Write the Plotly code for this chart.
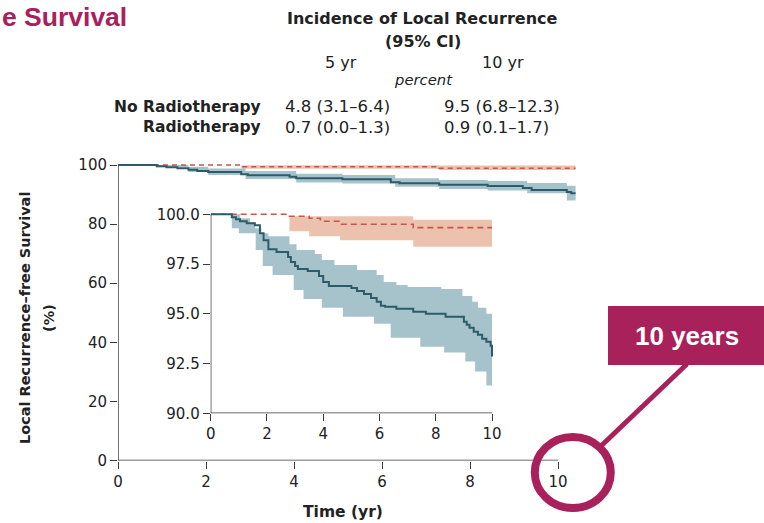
import plotly.graph_objects as go

W, H = 764, 523


def px(x):
    return x / W


def py(y):
    return 1 - y / H


# ---------------- data ----------------
# Main panel, No Radiotherapy (Kaplan-Meier step curve, %)
main_t_norad = [0, 0.88, 1.1, 1.35, 1.6, 1.8, 2.05, 2.8, 2.95, 3.9, 4.05, 5.1, 6.2, 6.4, 7.3, 8.4, 9.2, 9.4, 10.2, 10.3, 10.4]
main_v_norad = [100, 99.6, 99.2, 98.9, 98.4, 98.0, 97.6, 96.9, 96.5, 96.0, 95.5, 95.2, 94.2, 93.8, 93.3, 92.9, 92.2, 91.5, 90.9, 90.4, 90.4]
main_t_norad_up = [0.88, 1.6, 2.05, 2.9, 4.05, 5.1, 6.3, 7.3, 8.4, 9.3, 10.2, 10.4]
main_v_norad_up = [100, 99.4, 98.8, 98.0, 97.0, 96.6, 95.5, 94.9, 94.6, 93.9, 93.0, 93.0]
main_t_norad_lo = [0.88, 1.6, 2.05, 2.9, 4.05, 5.1, 6.3, 7.3, 8.4, 9.3, 10.2, 10.4]
main_v_norad_lo = [99.2, 97.6, 96.6, 95.3, 94.1, 93.7, 92.6, 91.9, 91.4, 90.4, 88.0, 87.4]

# Main panel, Radiotherapy
main_t_rad = [0, 2.8, 7.3, 10.4]
main_v_rad = [100, 99.4, 98.9, 98.9]
main_t_rad_band = [2.8, 7.3, 10.4]
main_v_rad_up = [99.9, 99.8, 99.8]
main_v_rad_lo = [98.7, 98.3, 98.3]

# Inset, No Radiotherapy
ins_t_norad = [0, 0.75, 0.9, 1.04, 1.28, 1.57, 1.75, 1.88, 2.05, 2.34, 2.75, 2.85, 3.0, 3.1, 3.45, 3.85, 4.0,
               4.2, 5.0, 5.2, 5.45, 5.7, 5.9, 6.05, 6.2, 6.6, 7.2, 7.65, 8.35, 9.0, 9.1, 9.2, 9.35, 9.5, 9.65,
               9.8, 9.95, 10.0]
ins_v_norad = [100, 99.85, 99.75, 99.65, 99.55, 99.45, 99.05, 98.7, 98.25, 98.1, 97.85, 97.6, 97.4, 97.25,
               97.15, 96.9, 96.6, 96.4, 96.3, 96.15, 96.0, 95.8, 95.6, 95.4, 95.35, 95.25, 95.1, 95.0, 94.85,
               94.6, 94.45, 94.3, 94.1, 93.95, 93.75, 93.6, 93.4, 92.85]
ins_t_norad_up = [0.75, 1.05, 1.4, 1.57, 1.8, 2.05, 2.8, 3.05, 3.7, 3.95, 4.4, 5.2, 5.9, 6.15, 6.6, 7.0, 8.2,
                  8.95, 9.3, 9.5, 9.8, 10.0]
ins_v_norad_up = [100, 99.8, 99.6, 99.3, 99.05, 98.9, 98.5, 98.2, 98.0, 97.7, 97.45, 97.2, 96.95, 96.6,
                  96.45, 96.35, 96.25, 95.9, 95.6, 95.3, 95.0, 95.0]
ins_t_norad_lo = [0.75, 1.0, 1.6, 1.85, 2.2, 2.95, 3.3, 3.95, 4.7, 5.8, 6.4, 7.45, 8.3, 9.05, 9.4, 9.8, 10.0]
ins_v_norad_lo = [99.3, 99.05, 98.2, 97.4, 96.95, 96.2, 95.75, 95.3, 94.85, 94.5, 93.8, 93.35, 93.05, 92.6,
                  92.1, 91.4, 91.2]

# Inset, Radiotherapy
ins_t_rad = [0, 2.8, 3.5, 3.9, 4.6, 7.2, 10.0]
ins_v_rad = [100, 99.9, 99.8, 99.65, 99.5, 99.33, 99.33]
ins_t_rad_up = [2.8, 7.2, 10.0]
ins_v_rad_up = [99.9, 99.72, 99.72]
ins_t_rad_lo = [2.8, 3.5, 4.6, 7.2, 10.0]
ins_v_rad_lo = [99.15, 98.9, 98.7, 98.37, 98.37]

# Axis ticks
main_xticks = [0, 2, 4, 6, 8, 10]
main_yticks = [0, 20, 40, 60, 80, 100]
ins_xticks = [0, 2, 4, 6, 8, 10]
ins_yticks = [90.0, 92.5, 95.0, 97.5, 100.0]

# Header table
table_groups = ["No Radiotherapy", "Radiotherapy"]
table_5yr = ["4.8 (3.1–6.4)", "0.7 (0.0–1.3)"]
table_10yr = ["9.5 (6.8–12.3)", "0.9 (0.1–1.7)"]

# ---------------- styles ----------------
BLUE = "#2E5B69"
BLUE_BAND = "#A6C3CC"
RED = "#C4564B"
RED_BAND = "#ECC2AE"
AXIS = "#3a3a3a"
TXT = "#222"
CRIMSON = "#A8215B"
FONT = "DejaVu Sans"
SLIDE_FONT = "Liberation Sans, Arial"

fig = go.Figure()


def add_band(t_up, v_up, t_lo, v_lo, color, xa, ya):
    fig.add_trace(go.Scatter(x=t_up, y=v_up, mode="lines", line=dict(width=0, shape="hv"),
                             hoverinfo="skip", xaxis=xa, yaxis=ya))
    fig.add_trace(go.Scatter(x=t_lo, y=v_lo, mode="lines", line=dict(width=0, shape="hv"),
                             fill="tonexty", fillcolor=color, hoverinfo="skip", xaxis=xa, yaxis=ya))


# main panel
add_band(main_t_rad_band, main_v_rad_up, main_t_rad_band, main_v_rad_lo, RED_BAND, "x", "y")
add_band(main_t_norad_up, main_v_norad_up, main_t_norad_lo, main_v_norad_lo, BLUE_BAND, "x", "y")
fig.add_trace(go.Scatter(x=main_t_rad, y=main_v_rad, mode="lines",
                         line=dict(color=RED, width=1.6, shape="hv", dash="5px,4px"), xaxis="x", yaxis="y"))
fig.add_trace(go.Scatter(x=main_t_norad, y=main_v_norad, mode="lines",
                         line=dict(color=BLUE, width=2, shape="hv"), xaxis="x", yaxis="y"))

# inset
add_band(ins_t_rad_up, ins_v_rad_up, ins_t_rad_lo, ins_v_rad_lo, RED_BAND, "x2", "y2")
add_band(ins_t_norad_up, ins_v_norad_up, ins_t_norad_lo, ins_v_norad_lo, BLUE_BAND, "x2", "y2")
fig.add_trace(go.Scatter(x=ins_t_rad, y=ins_v_rad, mode="lines",
                         line=dict(color=RED, width=1.6, shape="hv", dash="6px,4px"), xaxis="x2", yaxis="y2"))
fig.add_trace(go.Scatter(x=ins_t_norad, y=ins_v_norad, mode="lines",
                         line=dict(color=BLUE, width=2, shape="hv"), xaxis="x2", yaxis="y2"))

# ---------------- axes geometry ----------------
# main: x=0 at 118px, 44 px / yr ; y=0 at 460.5px, 2.955 px / unit
mx_range = [0, 10.5]
my_range = [0, 103]
mx_dom = [px(118), px(118 + 44 * mx_range[1])]
my_dom = [py(460.5), py(460.5 - 2.955 * my_range[1])]
# inset: x=0 at 210.7px, 28.13 px / yr ; y=90 at 413.3px, 19.9 px / unit
ix_range = [0, 10.3]
iy_range = [90, 100.4]
ix_dom = [px(210.7), px(210.7 + 28.13 * ix_range[1])]
iy_dom = [py(413.3), py(413.3 - 19.9 * (iy_range[1] - 90))]

tickfont = dict(family=FONT, size=15, color=TXT)
common = dict(showgrid=False, zeroline=False, showline=False, ticks="outside", ticklen=7,
              tickwidth=1.3, tickcolor=AXIS, tickfont=tickfont, fixedrange=True, automargin=False)

fig.update_layout(
    template="none",
    width=W, height=H, autosize=False, margin=dict(l=0, r=0, t=0, b=0, pad=0),
    paper_bgcolor="white", plot_bgcolor="rgba(0,0,0,0)", showlegend=False,
    font=dict(family=FONT, color=TXT),
    xaxis=dict(domain=mx_dom, range=mx_range, tickvals=main_xticks, anchor="y", **common),
    yaxis=dict(domain=my_dom, range=my_range, tickvals=main_yticks, anchor="x", **common),
    xaxis2=dict(domain=ix_dom, range=ix_range, tickvals=ins_xticks, anchor="y2", **common),
    yaxis2=dict(domain=iy_dom, range=iy_range, tickvals=ins_yticks, tickformat=".1f", anchor="x2", **common),
)

# axis lines
for (x0, y0, x1, y1, xr, yr) in [
    (0, 0, main_xticks[-1], 0, "x", "y"),
    (0, 0, 0, main_yticks[-1], "x", "y"),
    (0, ins_yticks[0], ins_xticks[-1], ins_yticks[0], "x2", "y2"),
    (0, ins_yticks[0], 0, ins_yticks[-1], "x2", "y2"),
]:
    fig.add_shape(type="line", x0=x0, y0=y0, x1=x1, y1=y1, xref=xr, yref=yr,
                  line=dict(color=AXIS, width=1.4))


def note(x, y, text, size, family=FONT, color=TXT, xanchor="center", angle=0):
    fig.add_annotation(x=px(x), y=py(y), xref="paper", yref="paper", text=text, showarrow=False,
                       xanchor=xanchor, yanchor="middle", textangle=angle,
                       font=dict(family=family, size=size, color=color))


# axis titles
note(343, 512, "<b>Time (yr)</b>", 15.5)
note(25, 318, "<b>Local Recurrence–free Survival</b>", 14.5, angle=-90)
note(49, 318, "<b>(%)</b>", 14.5, angle=-90)

# header table
note(422, 18, "<b>Incidence of Local Recurrence</b>", 16)
note(423, 42, "<b>(95% CI)</b>", 16)
note(341, 62, "5 yr", 16)
note(503, 62, "10 yr", 16)
note(423, 80, "<i>percent</i>", 14.8)
rows_y = [107, 127]
for i, g in enumerate(table_groups):
    note(263, rows_y[i], f"<b>{g}</b>", 15.5, xanchor="right")
    note(283, rows_y[i], table_5yr[i], 16.5, xanchor="left")
    note(442, rows_y[i], table_10yr[i], 16.5, xanchor="left")

# slide title fragment
note(129, 17, "<b>e Survival</b>", 26.5, family=SLIDE_FONT, color=CRIMSON, xanchor="right")

# callout
fig.add_shape(type="rect", x0=px(608), x1=px(770), y0=py(365), y1=py(306), xref="paper", yref="paper",
              fillcolor=CRIMSON, line=dict(width=0))
fig.add_shape(type="line", x0=px(601), y0=py(446), x1=px(687), y1=py(364), xref="paper", yref="paper",
              line=dict(color=CRIMSON, width=5))
fig.add_shape(type="circle", x0=px(534.8), x1=px(610.8), y0=py(508), y1=py(437), xref="paper", yref="paper",
              line=dict(color=CRIMSON, width=8))
note(687, 336, "<b>10 years</b>", 26, family=SLIDE_FONT, color="white")

fig.write_html("out.html", config={"displayModeBar": False},
               post_script="document.body.style.margin='0';document.body.style.overflow='hidden';")
